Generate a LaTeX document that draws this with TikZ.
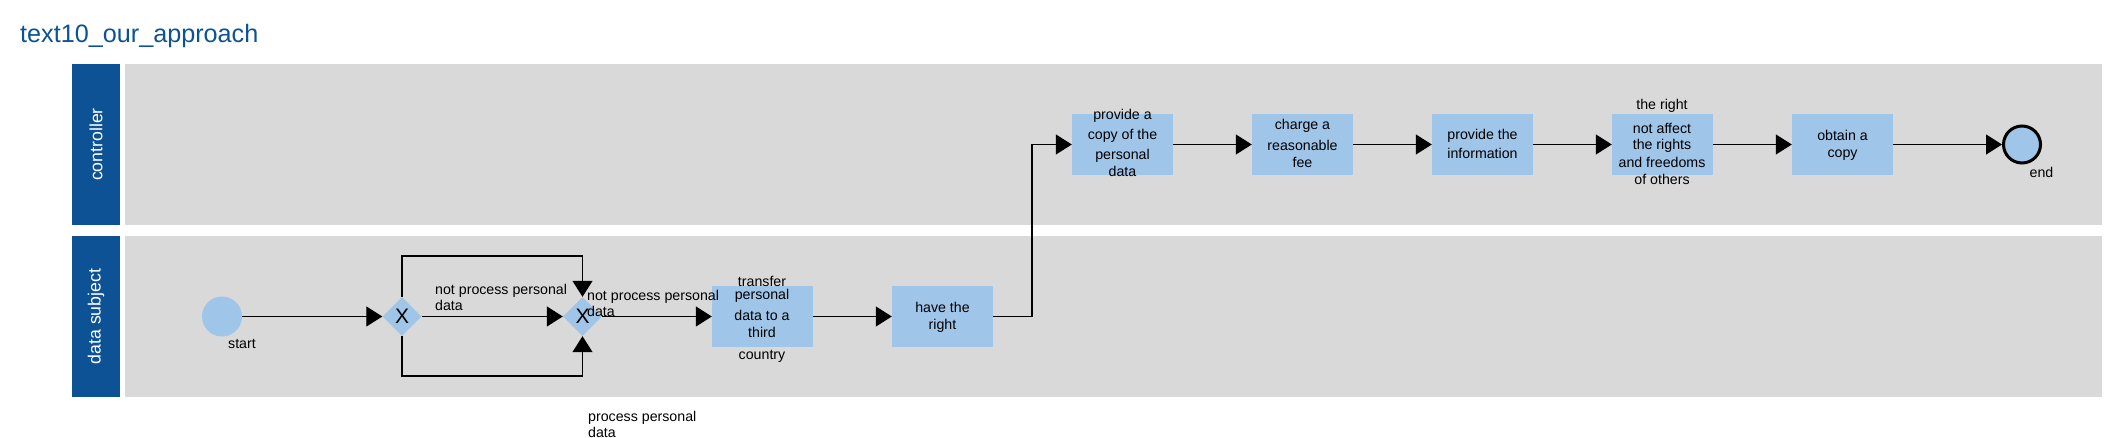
\documentclass[tikz,border=0pt]{standalone}
\usepackage{fontspec}
\setmainfont{Liberation Sans}
\usetikzlibrary{arrows.meta,shapes.geometric}
\definecolor{hdrblue}{RGB}{12,82,148}
\definecolor{taskblue}{RGB}{159,197,232}
\definecolor{lanegray}{RGB}{217,217,217}
\begin{document}
\begin{tikzpicture}[x=1pt,y=-1pt,
  hdr/.style={rectangle, fill=hdrblue, text=white, inner sep=0, rotate=90, minimum width=161, minimum height=48, font=\fontsize{17.7}{20}\selectfont},
  lane/.style={rectangle, fill=lanegray, inner sep=0, minimum width=1977, minimum height=161},
  task/.style={rectangle, fill=taskblue, inner sep=0, minimum width=101, minimum height=61},
  tasktxt/.style={font=\fontsize{14.2}{17}\selectfont, align=center, inner sep=0},
  gw/.style={diamond, fill=taskblue, inner sep=0, minimum width=39, minimum height=39, font=\fontsize{21}{21}\selectfont},
  startev/.style={circle, fill=taskblue, inner sep=0, minimum size=40},
  endev/.style={circle, fill=taskblue, draw=black, line width=3pt, inner sep=0, minimum size=37},
  evlbl/.style={font=\fontsize{14.2}{16}\selectfont, inner sep=0, align=left},
  flow/.style={line width=1.2pt, -{Triangle[length=16pt,width=20pt]}}
]
\useasboundingbox (0,0) rectangle (2119,438);
\node[anchor=base west, font=\fontsize{25.2}{30}\selectfont, text=hdrblue, inner sep=0] (title) at (20,43) {text10\_our\_approach};
% lanes
\node[lane] (laneC) at (1113.5,144.5) {};
\node[lane] (laneD) at (1113.5,316.5) {};
\node[hdr] (hC) at (96,144.5) {controller};
\node[hdr] (hD) at (96,316.5) {data subject};
% data subject lane
\node[startev] (st) at (222,316.5) {};
\node[evlbl] (stl) at (242,344) {start};
\node[gw] (g1) at (402,316.5) {X};
\node[gw] (g2) at (582.5,316.5) {X};
\node[task] (tr) at (762.5,316.5) {};
\node[tasktxt] (trT) at (762,319.5) {transfer\\[-4pt]personal\\[4pt]data to a\\third\\[5pt]country};
\node[task] (hr) at (942.5,316.5) {};
\node[tasktxt] (hrT) at (942.5,317.5) {have the\\right};
% controller lane
\node[task] (pc) at (1122.5,144.5) {};
\node[tasktxt] (pcT) at (1122.5,142.5) {provide a\\[3pt]copy of the\\[3pt]personal\\data};
\node[task] (cf) at (1302.5,144.5) {};
\node[tasktxt] (cfT) at (1302.5,143) {charge a\\[4pt]reasonable\\fee};
\node[task] (pi) at (1482.5,144.5) {};
\node[tasktxt] (piT) at (1482.5,143.7) {provide the\\[2pt]information};
\node[task] (na) at (1662.5,144.5) {};
\node[tasktxt] (naT) at (1662,141.5) {the right\\[7pt]not affect\\[-1pt]the rights\\[1pt]and freedoms\\of others};
\node[task] (ob) at (1842.5,144.5) {};
\node[tasktxt] (obT) at (1842.5,145.7) {obtain a\\copy};
\node[endev] (en) at (2022,144.5) {};
\node[evlbl] (enl) at (2041.5,172) {end};
% edge labels (base = baseline of the last line)
\node[evlbl, anchor=base west] (l1) at (435,310) {not process personal\\data};
\node[evlbl, anchor=base west] (l2) at (587,316.5) {not process personal\\data};
\node[evlbl, anchor=base west] (l3) at (588,437) {process personal\\data};
% connectors
\coordinate (t1) at (402,256);
\coordinate (b1) at (402,376);
\coordinate (elb) at (1032,230);
\draw[flow] (st) -- (g1);
\draw[flow] (g1) -- (g2);
\draw[flow] (g1.north) -- (t1) -| (g2.north);
\draw[flow] (g1.south) -- (b1) -| (g2.south);
\draw[flow] (g2) -- (tr);
\draw[flow] (tr) -- (hr);
\draw[flow] (hr.east) -| (elb) |- (pc.west);
\draw[flow] (pc) -- (cf);
\draw[flow] (cf) -- (pi);
\draw[flow] (pi) -- (na);
\draw[flow] (na) -- (ob);
\draw[flow] (ob) -- (en);
\end{tikzpicture}
\end{document}
